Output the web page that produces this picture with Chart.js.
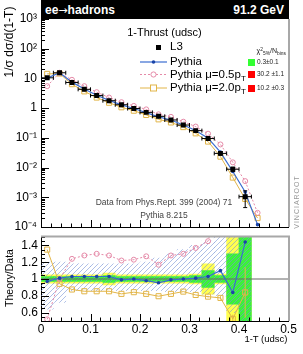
<!DOCTYPE html>
<html><head><meta charset="utf-8">
<script src="https://cdn.jsdelivr.net/npm/chart.js@4.4.1/dist/chart.umd.min.js"></script>
<style>
html,body{margin:0;padding:0;background:#fff;}
#wrap{position:relative;width:303px;height:354px;overflow:hidden;font-family:"Liberation Sans",Arial,Helvetica,sans-serif;color:#000;}
canvas{position:absolute;left:0;}
.t{position:absolute;white-space:nowrap;line-height:1;}
.c{transform:translate(-50%,-50%);}
sub{font-size:70%;vertical-align:-0.35em;line-height:0;}
sup{font-size:70%;vertical-align:0.45em;line-height:0;}
</style></head>
<body><div id="wrap">
<canvas id="topc" width="303" height="232" style="top:0px"></canvas>
<canvas id="botc" width="303" height="122" style="top:232px"></canvas>

<div class="t" style="left:41px;top:0;width:248px;height:19px;background:#000;"></div>
<div class="t" style="left:45px;top:3.5px;color:#fff;font-weight:bold;font-size:12px;">ee<span style="font-family:'DejaVu Sans';font-weight:normal;font-size:11px;">→</span>hadrons</div>
<div class="t" style="right:19px;top:3.5px;color:#fff;font-weight:bold;font-size:12px;">91.2 GeV</div>

<div class="t c" style="left:164.5px;top:32px;font-size:11px;">1-Thrust (udsc)</div>

<div class="t" style="left:155.5px;top:44.5px;width:5px;height:5px;background:#000;"></div>
<div class="t" style="left:170px;top:41px;font-size:11.5px;">L3</div>
<svg class="t" style="left:138px;top:56px" width="32" height="40">
  <line x1="2" y1="6" x2="29" y2="6" stroke="#3a6cd0" stroke-width="1.2"/>
  <circle cx="15.5" cy="6" r="1.8" fill="#1a44a8"/>
  <line x1="2" y1="18.5" x2="29" y2="18.5" stroke="#e58aa8" stroke-width="1" stroke-dasharray="2,2"/>
  <circle cx="15.5" cy="18.5" r="2.6" fill="#fff" stroke="#e58aa8" stroke-width="1"/>
  <line x1="2" y1="32" x2="29" y2="32" stroke="#e2b548" stroke-width="1"/>
  <rect x="12.5" y="29" width="6" height="6" fill="#fff" stroke="#e2b548" stroke-width="1"/>
</svg>
<div class="t" style="left:170px;top:56px;font-size:11.5px;">Pythia</div>
<div class="t" style="left:170px;top:68.5px;font-size:11.5px;">Pythia μ=0.5p<sub>T</sub></div>
<div class="t" style="left:170px;top:82px;font-size:11.5px;">Pythia μ=2.0p<sub>T</sub></div>

<div class="t" style="left:256.5px;top:47px;font-size:7px;color:#222;">χ<sup>2</sup><sub>5%</sub>/N<sub>bins</sub></div>
<div class="t" style="left:247.5px;top:59px;width:7.5px;height:6.5px;background:#33ff33;"></div>
<div class="t" style="left:247.5px;top:71px;width:7.5px;height:6.5px;background:#ff0000;"></div>
<div class="t" style="left:247.5px;top:85px;width:7.5px;height:6.5px;background:#ff0000;"></div>
<div class="t" style="left:257px;top:59px;font-size:6.5px;color:#222;">0.3±0.1</div>
<div class="t" style="left:257px;top:71px;font-size:6.5px;color:#222;">30.2 ±1.1</div>
<div class="t" style="left:257px;top:85px;font-size:6.5px;color:#222;">10.2 ±0.3</div>

<div class="t c" style="left:164px;top:201.5px;font-size:8.5px;color:#444;">Data from Phys.Rept. 399 (2004) 71</div>
<div class="t c" style="left:164px;top:214.5px;font-size:8.5px;color:#444;">Pythia 8.215</div>
<div class="t c" style="left:296px;top:202px;font-size:7px;color:#999;letter-spacing:1px;transform:translate(-50%,-50%) rotate(-90deg);">VINCIAROOT</div>

<div class="t c" style="left:9px;top:42px;font-size:12px;transform:translate(-50%,-50%) rotate(-90deg);">1/σ dσ/d(1-T)</div>
<div class="t c" style="left:9px;top:277.5px;font-size:10.5px;transform:translate(-50%,-50%) rotate(-90deg);">Theory/Data</div>
<div class="t" style="right:15.5px;top:334px;font-size:9.5px;">1-T (udsc)</div>
</div>
<script>
// ---------- data ----------
const binCenters = [0.0125,0.0375,0.0625,0.0875,0.1125,0.1375,0.1625,0.1875,0.2125,0.2375,0.2625,0.2875,0.3125,0.3375,0.3625,0.3875,0.4125,0.4375];
const binHalfWidth = 0.0125;
const l3Values = [10.5,15.5,7.3,4.3,2.65,1.78,1.3,0.97,0.72,0.53,0.40,0.27,0.175,0.095,0.030,0.0088,0.00105];
const l3Errors = [0.35,0.3,0.2,0.12,0.08,0.06,0.05,0.04,0.03,0.025,0.02,0.015,0.012,0.008,0.004,0.0015,0.0006];
const pythiaValues    = [10.2,15.6,7.5,4.4,2.73,1.83,1.29,0.97,0.71,0.51,0.40,0.27,0.177,0.098,0.033,0.0074,0.0015,0.00012];
const pythiaLowValues = [5.5,15.5,9.0,5.5,3.45,2.28,1.59,1.19,0.91,0.62,0.51,0.35,0.24,0.138,0.06,0.015,0.0035,0.0003];
const pythiaHighValues= [14.2,14.6,6.4,3.67,2.27,1.52,1.07,0.82,0.59,0.42,0.33,0.23,0.142,0.075,0.0233,0.0046,0.00088,0.0002];
const pythiaRatio     = [0.97,1.01,1.03,1.03,1.03,1.03,0.99,1.0,0.98,0.955,0.99,1.0,1.01,1.03,1.10,0.84,1.44];
const pythiaLowRatio  = [0.52,1.0,1.24,1.28,1.30,1.28,1.22,1.23,1.27,1.17,1.28,1.30,1.37,1.45,2.0,1.7,3.3];
const pythiaHighRatio = [1.35,0.943,0.875,0.854,0.854,0.854,0.823,0.843,0.823,0.795,0.823,0.85,0.81,0.79,0.775,0.525,0.84];
const pythiaHighRatioErr = [0,0,0,0,0,0,0,0,0,0,0,0,0,0.01,0.02,0.05,0.3];
const dataBand1 = [0.03,0.03,0.03,0.03,0.03,0.04,0.03,0.03,0.03,0.03,0.03,0.03,0.04,0.10,0.04,0.30,0.60];
const dataBand2 = [0.05,0.05,0.05,0.05,0.05,0.07,0.05,0.05,0.05,0.05,0.05,0.05,0.06,0.18,0.06,0.60,0.60];
const mcBandLow  = [0.64,0.72,0.86,0.86,0.86,0.86,0.86,0.86,0.86,0.86,0.85,0.85,0.85,0.82,0.80,0.60,0.50];
const mcBandHigh = [1.20,1.20,1.18,1.18,1.18,1.18,1.18,1.18,1.20,1.25,1.30,1.35,1.40,1.45,1.50,1.50,1.50];
const yTickValuesTop = [1e-4,1e-3,1e-2,1e-1,1,10,100,1000];
const yTickLabelsTop = ['10⁻⁴','10⁻³','10⁻²','10⁻¹','1','10','10²','10³'];
const yTickValuesRatio = [0.6,0.8,1,1.2,1.4];
const yTickLabelsRatio = ['0.6','0.8','1','1.2','1.4'];
const xTickValues = [0,0.1,0.2,0.3,0.4,0.5];
const xTickLabels = ['0','0.1','0.2','0.3','0.4','0.5'];

const FONT = '"Liberation Sans", Arial, Helvetica, sans-serif';
const pts = (arr) => arr.map((v,i)=>({x:binCenters[i], y:v}));

function hatchPattern(){
  const c=document.createElement('canvas'); c.width=5; c.height=5;
  const g=c.getContext('2d');
  g.strokeStyle='rgba(120,150,215,0.75)'; g.lineWidth=0.8;
  g.beginPath(); g.moveTo(0,5); g.lineTo(5,0); g.moveTo(-1,1); g.lineTo(1,-1); g.moveTo(4,6); g.lineTo(6,4); g.stroke();
  return g.createPattern(c,'repeat');
}

const rootPlugin = {
  id:'rootDeco',
  afterDatasetsDraw(chart, args, opts){
    const {ctx, chartArea:a, scales:{x,y}} = chart;
    ctx.save();
    ctx.beginPath(); ctx.rect(a.left,a.top,a.right-a.left,a.bottom-a.top); ctx.clip();
    (opts.errors||[]).forEach(e=>{
      ctx.strokeStyle=e.color; ctx.lineWidth=1;
      e.values.forEach((v,i)=>{
        const err=e.err[i]; if(v==null) return;
        const px=x.getPixelForValue(binCenters[i]), py=y.getPixelForValue(v);
        ctx.beginPath();
        if(e.horiz){
          const x0=x.getPixelForValue(binCenters[i]-binHalfWidth), x1=x.getPixelForValue(binCenters[i]+binHalfWidth);
          ctx.moveTo(x0,py); ctx.lineTo(x1,py);
          ctx.moveTo(x0,py-2); ctx.lineTo(x0,py+2); ctx.moveTo(x1,py-2); ctx.lineTo(x1,py+2);
        }
        if(err>0){
          const lo = Math.max(v-err, y.min), hi=v+err;
          const y0=y.getPixelForValue(lo), y1=y.getPixelForValue(hi);
          ctx.moveTo(px,y0); ctx.lineTo(px,y1);
          if(e.horiz){ ctx.moveTo(px-2,y0); ctx.lineTo(px+2,y0); ctx.moveTo(px-2,y1); ctx.lineTo(px+2,y1); }
        }
        ctx.stroke();
      });
    });
    ctx.restore();
    ctx.save();
    ctx.strokeStyle='#000'; ctx.lineWidth=1;
    ctx.beginPath();
    opts.yTicks.forEach(t=>{
      const py=Math.round(y.getPixelForValue(t.v))+0.5;
      ctx.moveTo(a.left,py); ctx.lineTo(a.left+t.len,py);
    });
    opts.xTicks.forEach(t=>{
      const px=Math.round(x.getPixelForValue(t.v))+0.5;
      ctx.moveTo(px,a.bottom); ctx.lineTo(px,a.bottom-t.len);
    });
    ctx.stroke();
    ctx.strokeStyle='#a8a8a8'; ctx.lineWidth=2;
    ctx.beginPath();
    ctx.moveTo(a.right+0.5,a.top); ctx.lineTo(a.right+0.5,a.bottom);
    if(opts.topFrame){ ctx.moveTo(a.left,a.top-0.5); ctx.lineTo(a.right+1.5,a.top-0.5); }
    ctx.stroke();
    ctx.restore();
  }
};

function logTicks(){
  const out=[];
  for(let k=-4;k<=3;k++){
    out.push({v:Math.pow(10,k),len:8});
    if(k<3) for(let m=2;m<=9;m++) out.push({v:m*Math.pow(10,k),len:4});
  }
  return out;
}
function xTicksList(){
  const out=[];
  for(let i=0;i<=25;i++) out.push({v:i*0.02,len:(i%5===0)?7:3.5});
  return out;
}
function ratioYTicks(){
  const out=[];
  for(let i=10;i<=30;i++){ const v=i*0.05; out.push({v:v,len:(i%4===0)?8:4}); }
  return out;
}

const common = {responsive:false, animation:false, events:[]};

new Chart(document.getElementById('topc'), {
  type:'line',
  data:{datasets:[
    {label:'L3', data:pts(l3Values), showLine:false, pointStyle:'rect', pointRadius:3.5,
     pointBackgroundColor:'#000', pointBorderColor:'#000', pointBorderWidth:0, order:0},
    {label:'Pythia', data:pts(pythiaValues), borderColor:'#3a6cd0', borderWidth:1.2, pointRadius:1.8,
     pointBackgroundColor:'#1a44a8', pointBorderWidth:0, order:1},
    {label:'Pythia mu=0.5pT', data:pts(pythiaLowValues), borderColor:'#e58aa8', borderWidth:1, borderDash:[2,2],
     pointStyle:'circle', pointRadius:2.5, pointBackgroundColor:'rgba(255,255,255,0)', pointBorderColor:'#e58aa8', pointBorderWidth:1, order:2},
    {label:'Pythia mu=2.0pT', data:pts(pythiaHighValues), borderColor:'#e2b548', borderWidth:1,
     pointStyle:'rect', pointRadius:3.6, pointBackgroundColor:'rgba(255,255,255,0)', pointBorderColor:'#e2b548', pointBorderWidth:1, order:3},
  ]},
  options:Object.assign({}, common, {
    layout:{padding:{left:0,right:14.5,top:19,bottom:0}},
    plugins:{legend:{display:false},tooltip:{enabled:false},
      rootDeco:{yTicks:logTicks(), xTicks:xTicksList(), topFrame:false,
        errors:[{values:l3Values, err:l3Errors, color:'#000', horiz:true}]}},
    scales:{
      x:{type:'linear',min:0,max:0.5,grid:{display:false,drawTicks:false},border:{display:true,color:'#000',width:1},
         ticks:{display:false},
         afterFit(s){s.height=3;s.paddingLeft=0;s.paddingRight=0;}},
      y:{type:'logarithmic',min:1e-4,max:1e3,grid:{display:false,drawTicks:false},border:{display:true,color:'#000',width:1},
         ticks:{padding:4,color:'#000',font:{size:12,family:FONT},autoSkip:false,
                callback:(v,i)=>yTickLabelsTop[i]},
         afterBuildTicks(s){s.ticks=yTickValuesTop.map(v=>({value:v}));},
         afterFit(s){s.width=41;s.paddingTop=0;s.paddingBottom=0;}}
    }
  }),
  plugins:[rootPlugin]
});

const barCommon = {type:'bar', grouped:false, barPercentage:1, categoryPercentage:1, borderWidth:0};
new Chart(document.getElementById('botc'), {
  type:'bar',
  data:{datasets:[
    Object.assign({}, barCommon, {label:'data 2s', data:dataBand2.map((h,i)=>({x:binCenters[i],y:[1-h,1+h]})), backgroundColor:'#ffff50', order:12}),
    Object.assign({}, barCommon, {label:'data 1s', data:dataBand1.map((h,i)=>({x:binCenters[i],y:[1-h,1+h]})), backgroundColor:'#3cf03c', order:11}),
    Object.assign({}, barCommon, {label:'mc band', data:mcBandLow.map((l,i)=>({x:binCenters[i],y:[l,mcBandHigh[i]]})), backgroundColor:hatchPattern(), order:10}),
    {type:'line', label:'unity', data:[{x:0,y:1},{x:0.5,y:1}], borderColor:'#666', borderWidth:1, pointRadius:0, order:9},
    {type:'line', label:'Pythia', data:pts(pythiaRatio), borderColor:'#3a6cd0', borderWidth:1.2, pointRadius:1.8,
     pointBackgroundColor:'#1a44a8', pointBorderWidth:0, order:1},
    {type:'line', label:'Pythia mu=0.5pT', data:pts(pythiaLowRatio), borderColor:'#e58aa8', borderWidth:1, borderDash:[2,2],
     pointStyle:'circle', pointRadius:2.5, pointBackgroundColor:'rgba(255,255,255,0)', pointBorderColor:'#e58aa8', pointBorderWidth:1, order:2},
    {type:'line', label:'Pythia mu=2.0pT', data:pts(pythiaHighRatio), borderColor:'#e2b548', borderWidth:1,
     pointStyle:'rect', pointRadius:3.6, pointBackgroundColor:'rgba(255,255,255,0)', pointBorderColor:'#e2b548', pointBorderWidth:1, order:3},
  ]},
  options:Object.assign({}, common, {
    layout:{padding:{left:0,right:14.5,top:4,bottom:0}},
    plugins:{legend:{display:false},tooltip:{enabled:false},
      rootDeco:{yTicks:ratioYTicks(), xTicks:xTicksList(), topFrame:true,
        errors:[{values:pythiaHighRatio, err:pythiaHighRatioErr, color:'#e2b548', horiz:false}]}},
    scales:{
      x:{type:'linear',min:0,max:0.5,offset:false,grid:{display:false,drawTicks:false},border:{display:true,color:'#000',width:1},
         ticks:{padding:1,color:'#000',font:{size:12,family:FONT},autoSkip:false,maxRotation:0,
                callback:(v,i)=>xTickLabels[i]},
         afterBuildTicks(s){s.ticks=xTickValues.map(v=>({value:v}));},
         afterFit(s){s.height=33;s.paddingLeft=0;s.paddingRight=0;}},
      y:{type:'linear',min:0.5,max:1.5,grid:{display:false,drawTicks:false},border:{display:true,color:'#000',width:1},
         ticks:{padding:3,color:'#000',font:{size:12,family:FONT},autoSkip:false,
                callback:(v,i)=>yTickLabelsRatio[i]},
         afterBuildTicks(s){s.ticks=yTickValuesRatio.map(v=>({value:v}));},
         afterFit(s){s.width=41;s.paddingTop=0;s.paddingBottom=0;}}
    }
  }),
  plugins:[rootPlugin]
});
</script>
</body></html>
